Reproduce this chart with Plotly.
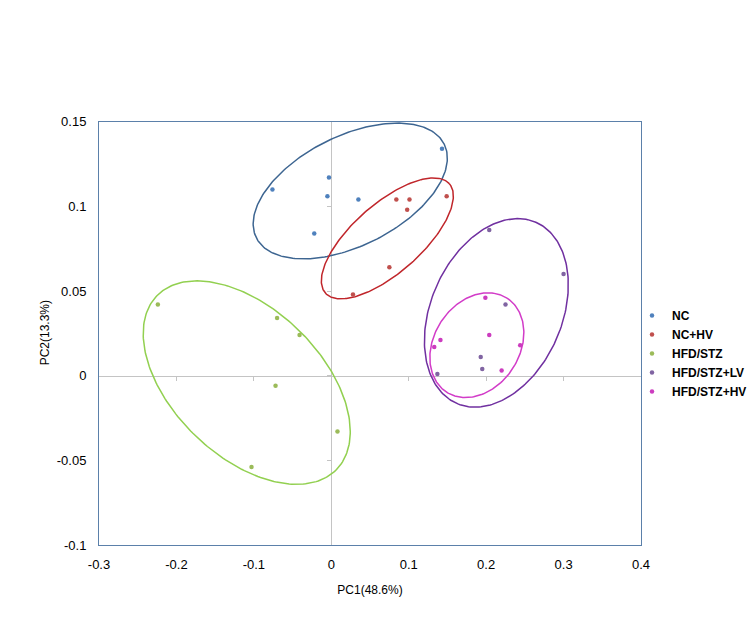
import numpy as np
import plotly.graph_objects as go

# ---- data ----
groups = ["NC", "NC+HV", "HFD/STZ", "HFD/STZ+LV", "HFD/STZ+HV"]

nc_x = [-0.076, -0.003, -0.005, -0.022, 0.035, 0.143]
nc_y = [0.110, 0.117, 0.106, 0.084, 0.104, 0.134]

nchv_x = [0.084, 0.101, 0.098, 0.149, 0.075, 0.028]
nchv_y = [0.104, 0.104, 0.098, 0.106, 0.064, 0.048]

hfd_x = [-0.224, -0.070, -0.041, -0.072, 0.008, -0.103]
hfd_y = [0.042, 0.034, 0.024, -0.006, -0.033, -0.054]

lv_x = [0.204, 0.300, 0.225, 0.193, 0.195, 0.137]
lv_y = [0.086, 0.060, 0.042, 0.011, 0.004, 0.001]

hv_x = [0.199, 0.204, 0.141, 0.133, 0.244, 0.220]
hv_y = [0.046, 0.024, 0.021, 0.017, 0.018, 0.003]

# confidence ellipses: centre and two conjugate half-axis vectors (data units)
ell_cx = [0.0245, 0.0724, -0.1092, 0.2132, 0.1880]
ell_cy = [0.1091, 0.0811, -0.0041, 0.0371, 0.0180]
ell_ux = [0.1213, 0.0800, 0.1160, 0.0510, 0.0389]
ell_uy = [0.0277, 0.0323, -0.0513, 0.0535, 0.0278]
ell_vx = [-0.0318, -0.0295, 0.0665, -0.0777, -0.0466]
ell_vy = [0.0290, 0.0152, 0.0313, 0.0154, 0.0136]

x_range = [-0.3, 0.4]
y_range = [-0.1, 0.15]
x_ticks = [-0.3, -0.2, -0.1, 0, 0.1, 0.2, 0.3, 0.4]
x_ticktext = ["-0.3", "-0.2", "-0.1", "0", "0.1", "0.2", "0.3", "0.4"]
y_ticks = [-0.1, -0.05, 0, 0.05, 0.1, 0.15]
y_ticktext = ["-0.1", "-0.05", "0", "0.05", "0.1", "0.15"]
x_title = "PC1(48.6%)"
y_title = "PC2(13.3%)"

# ---- styles / layout ----
point_colors = ["#4f81bd", "#c0504d", "#9bbb59", "#8064a2", "#cc3cbf"]
ellipse_colors = ["#3d6591", "#c0262b", "#92d050", "#7030a0", "#d23cc8"]
font_family = "Liberation Sans, Arial, sans-serif"

W, H = 754, 627
x_dom = [99 / W, 641 / W]
y_dom = [(H - 545) / H, (H - 121.7) / H]
# paper positions of the zero lines
zero_y_pos = y_dom[0] + (0 - y_range[0]) / (y_range[1] - y_range[0]) * (y_dom[1] - y_dom[0])
zero_x_pos = x_dom[0] + (0 - x_range[0]) / (x_range[1] - x_range[0]) * (x_dom[1] - x_dom[0])

xs = [nc_x, nchv_x, hfd_x, lv_x, hv_x]
ys = [nc_y, nchv_y, hfd_y, lv_y, hv_y]

fig = go.Figure()

# zero-line axes carrier (invisible)
fig.add_trace(go.Scatter(x=[None], y=[None], xaxis="x2", yaxis="y2",
                         showlegend=False, hoverinfo="skip"))

t = np.linspace(0, 2 * np.pi, 241)
for i in range(len(groups)):
    ex = ell_cx[i] + np.cos(t) * ell_ux[i] + np.sin(t) * ell_vx[i]
    ey = ell_cy[i] + np.cos(t) * ell_uy[i] + np.sin(t) * ell_vy[i]
    fig.add_trace(go.Scatter(x=ex, y=ey, mode="lines",
                             line=dict(color=ellipse_colors[i], width=1.5),
                             showlegend=False, hoverinfo="skip"))

for i, g in enumerate(groups):
    fig.add_trace(go.Scatter(x=xs[i], y=ys[i], mode="markers", name=g,
                             marker=dict(color=point_colors[i], size=4.5)))

fig.update_layout(
    width=W, height=H,
    margin=dict(l=0, r=0, t=0, b=0, autoexpand=False),
    paper_bgcolor="white", plot_bgcolor="white",
    font=dict(family=font_family, size=13, color="#000000"),
    xaxis=dict(domain=x_dom, range=x_range, tickvals=x_ticks, ticktext=x_ticktext,
               showgrid=False, zeroline=False, showline=True, mirror=True,
               linecolor="#5b80aa", linewidth=1, ticks="", automargin=False,
               ticklabelstandoff=7,
               title=dict(text=x_title, standoff=15, font=dict(size=12))),
    yaxis=dict(domain=y_dom, range=y_range, tickvals=y_ticks, ticktext=y_ticktext,
               showgrid=False, zeroline=False, showline=True, mirror=True,
               linecolor="#5b80aa", linewidth=1, ticks="", automargin=False,
               ticklabelstandoff=9),
    xaxis2=dict(range=x_range, overlaying="x", anchor="free", position=zero_y_pos,
                tickvals=x_ticks[1:-1], showticklabels=False, showgrid=False,
                zeroline=False, showline=True, linecolor="#c4c4c4", linewidth=1.2,
                ticks="outside", ticklen=4, tickcolor="#c4c4c4", tickwidth=1,
                layer="below traces", automargin=False),
    yaxis2=dict(range=y_range, overlaying="y", anchor="free", position=zero_x_pos,
                tickvals=y_ticks[1:-1], showticklabels=False, showgrid=False,
                zeroline=False, showline=True, linecolor="#c4c4c4", linewidth=1.2,
                ticks="outside", ticklen=4, tickcolor="#c4c4c4", tickwidth=1,
                layer="below traces", automargin=False),
    annotations=[dict(text=y_title, textangle=-90, xref="paper", yref="paper",
                      x=45 / W, y=(y_dom[0] + y_dom[1]) / 2, showarrow=False,
                      xanchor="center", yanchor="middle", font=dict(size=12))],
    legend=dict(x=632 / W, y=(H - 301) / H, xanchor="left", yanchor="top",
                font=dict(size=12, color="#000000", weight="bold"),
                itemwidth=30, tracegroupgap=0, bgcolor="rgba(0,0,0,0)"),
    showlegend=True,
)

fig.write_html("out.html", config={"displayModeBar": False},
               post_script="document.body.style.margin='0';")
